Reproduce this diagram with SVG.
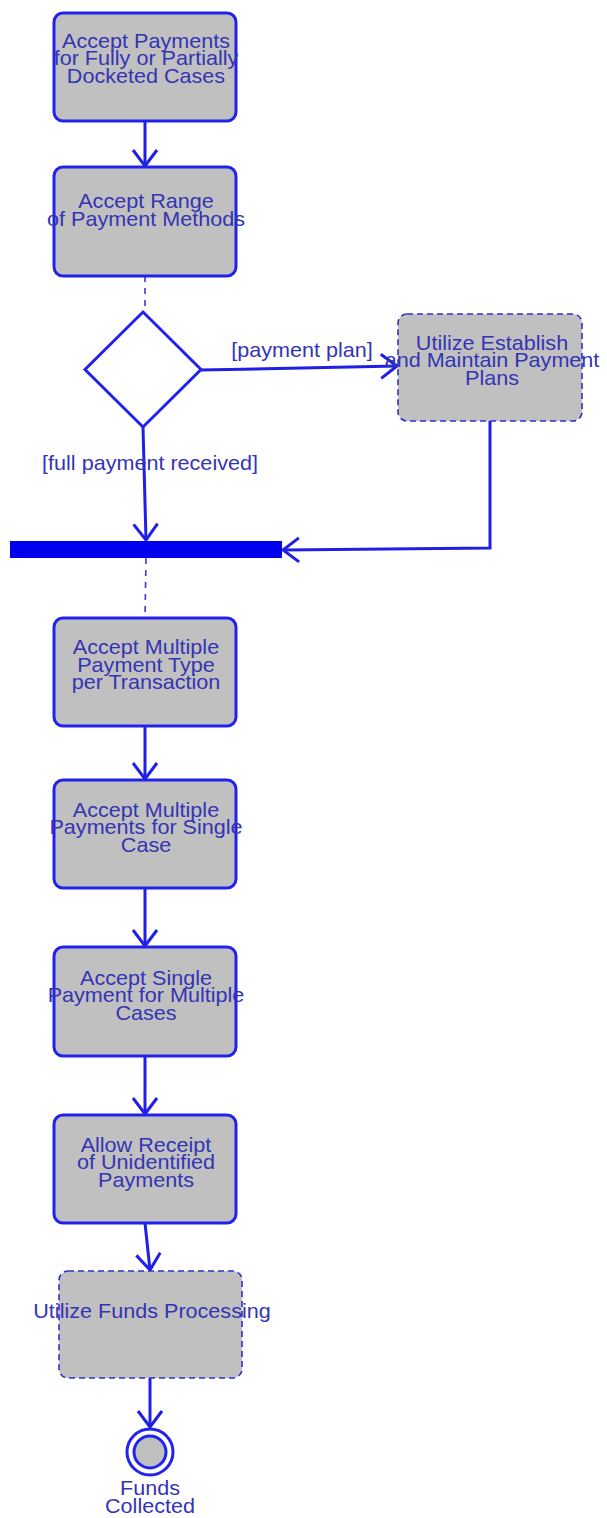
<svg xmlns="http://www.w3.org/2000/svg" width="607" height="1518" viewBox="0 0 607 1518">
<style>
.act rect{fill:#c0c0c0;stroke:#2222ee;stroke-width:3}
.ext rect{fill:#c0c0c0;stroke:#3030c8;stroke-width:1.6;stroke-dasharray:6 4}
text{font-family:"Liberation Sans",Arial,sans-serif;font-size:20px;fill:#3434b4;text-anchor:middle}
.edge{fill:none;stroke:#1f1fe6;stroke-width:3}
.dash{fill:none;stroke:#3a3ad0;stroke-width:1.6;stroke-dasharray:6 6}
.dec{fill:#ffffff;stroke:#2222ee;stroke-width:3}
.bar{fill:#0000ee}
.fin1{fill:#ffffff;stroke:#2222ee;stroke-width:3}
.fin2{fill:#c0c0c0;stroke:#2222ee;stroke-width:3}
</style>
<defs>
<marker id="arr" markerUnits="userSpaceOnUse" markerWidth="1" markerHeight="1" refX="0" refY="0" orient="auto" overflow="visible">
<path d="M-16,-12 L0,0 L-16,12" fill="none" stroke="#1f1fe6" stroke-width="3"/>
</marker>
</defs>
<rect x="0" y="0" width="607" height="1518" fill="#ffffff"/>

<g id="connectors">
<path class="edge" d="M145,121 L145,166" marker-end="url(#arr)"/>
<path class="dash" d="M145,276 L145,312"/>
<path class="edge" d="M201,370 L397,366" marker-end="url(#arr)"/>
<text transform="translate(302,0) scale(1.08,1)" x="0" y="357">[payment plan]</text>
<path class="edge" d="M143,427 L146,540" marker-end="url(#arr)"/>
<text transform="translate(150,0) scale(1.08,1)" x="0" y="470">[full payment received]</text>
<path class="edge" d="M490,421 L490,548 L283,550" marker-end="url(#arr)"/>
<path class="dash" d="M146,558 L145,618"/>
<path class="edge" d="M145,726 L145,779" marker-end="url(#arr)"/>
<path class="edge" d="M145,888 L145,946" marker-end="url(#arr)"/>
<path class="edge" d="M145,1056 L145,1114" marker-end="url(#arr)"/>
<path class="edge" d="M145,1223 L150,1270" marker-end="url(#arr)"/>
<path class="edge" d="M150,1378 L150,1427" marker-end="url(#arr)"/>
</g>

<g id="n1" class="act">
<rect x="54" y="13" width="182" height="108" rx="9"/>
<text transform="translate(146,0) scale(1.08,1)"><tspan x="0" y="48">Accept Payments</tspan><tspan x="0" y="65.5">for Fully or Partially</tspan><tspan x="0" y="83">Docketed Cases</tspan></text>
</g>
<g id="n2" class="act">
<rect x="54" y="167" width="182" height="109" rx="9"/>
<text transform="translate(146,0) scale(1.08,1)"><tspan x="0" y="208">Accept Range</tspan><tspan x="0" y="226">of Payment Methods</tspan></text>
</g>
<g id="decision">
<polygon class="dec" points="143,312 201,369.5 143,427 85,369.5"/>
</g>
<g id="n_plan" class="ext">
<rect x="398" y="314" width="184" height="107" rx="9"/>
<text transform="translate(492,0) scale(1.08,1)"><tspan x="0" y="350">Utilize Establish</tspan><tspan x="0" y="367.5">and Maintain Payment</tspan><tspan x="0" y="385">Plans</tspan></text>
</g>
<g id="join">
<rect class="bar" x="10" y="541" width="272" height="17"/>
</g>
<g id="n3" class="act">
<rect x="54" y="618" width="182" height="108" rx="9"/>
<text transform="translate(146,0) scale(1.08,1)"><tspan x="0" y="654.5">Accept Multiple</tspan><tspan x="0" y="672">Payment Type</tspan><tspan x="0" y="689.5">per Transaction</tspan></text>
</g>
<g id="n4" class="act">
<rect x="54" y="780" width="182" height="108" rx="9"/>
<text transform="translate(146,0) scale(1.08,1)"><tspan x="0" y="817">Accept Multiple</tspan><tspan x="0" y="834.5">Payments for Single</tspan><tspan x="0" y="852">Case</tspan></text>
</g>
<g id="n5" class="act">
<rect x="54" y="947" width="182" height="109" rx="9"/>
<text transform="translate(146,0) scale(1.08,1)"><tspan x="0" y="985">Accept Single</tspan><tspan x="0" y="1002.5">Payment for Multiple</tspan><tspan x="0" y="1020">Cases</tspan></text>
</g>
<g id="n6" class="act">
<rect x="54" y="1115" width="182" height="108" rx="9"/>
<text transform="translate(146,0) scale(1.08,1)"><tspan x="0" y="1152">Allow Receipt</tspan><tspan x="0" y="1169.5">of Unidentified</tspan><tspan x="0" y="1187">Payments</tspan></text>
</g>
<g id="n7" class="ext">
<rect x="59" y="1271" width="183" height="107" rx="9"/>
<text transform="translate(152,0) scale(1.08,1)" x="0" y="1318">Utilize Funds Processing</text>
</g>
<g id="final">
<circle class="fin1" cx="150" cy="1452" r="23"/>
<circle class="fin2" cx="150" cy="1452" r="16"/>
<text transform="translate(150,0) scale(1.08,1)"><tspan x="0" y="1495">Funds</tspan><tspan x="0" y="1513">Collected</tspan></text>
</g>
</svg>
